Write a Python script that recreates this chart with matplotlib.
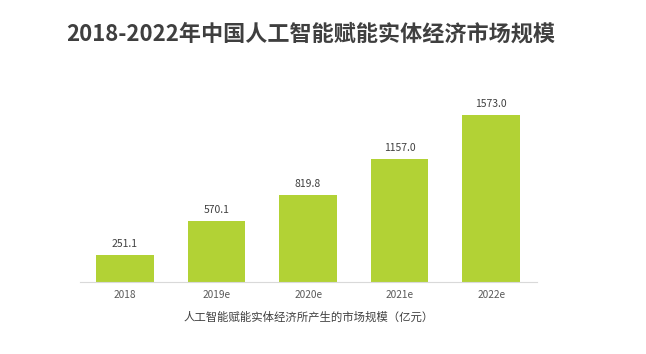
import matplotlib
matplotlib.use("Agg")
import matplotlib.pyplot as plt

plt.rcParams['font.family'] = ['Noto Sans CJK SC', 'DejaVu Sans']

categories = ["2018", "2019e", "2020e", "2021e", "2022e"]
values = [251.1, 570.1, 819.8, 1157.0, 1573.0]
labels = ["251.1", "570.1", "819.8", "1157.0", "1573.0"]
title = "2018-2022年中国人工智能赋能实体经济市场规模"
xlabel = "人工智能赋能实体经济所产生的市场规模（亿元）"

fig = plt.figure(figsize=(6.46, 3.54), dpi=100)
ax = fig.add_axes([80/646, 1-282/354, (537-80)/646, 182/354])
x = list(range(len(categories)))
bars = ax.bar(x, values, width=0.63, color="#b2d235")
for b, lab in zip(bars, labels):
    ax.annotate(lab, (b.get_x() + b.get_width()/2, b.get_height()),
                xytext=(0, 4.5), textcoords="offset points",
                ha="center", va="bottom", fontsize=7.5, color="#404040")
ax.set_xlim(-0.49, 4.5)
ax.set_ylim(0, 1714)
ax.set_xticks(x)
ax.set_xticklabels(categories, fontsize=7.3, color="#595959")
ax.tick_params(axis="x", length=0, pad=6)
ax.set_yticks([])
for s in ["top", "right", "left"]:
    ax.spines[s].set_visible(False)
ax.spines["bottom"].set_color("#d9d9d9")
ax.spines["bottom"].set_linewidth(0.8)
ax.set_xlabel(xlabel, fontsize=8.2, color="#404040", labelpad=8)

fig.text(66/646, 1-34/354, title, fontsize=15.9, fontweight="bold",
         color="#3f3f3f", ha="left", va="center")
fig.savefig("out.png", dpi=100, facecolor="white")
